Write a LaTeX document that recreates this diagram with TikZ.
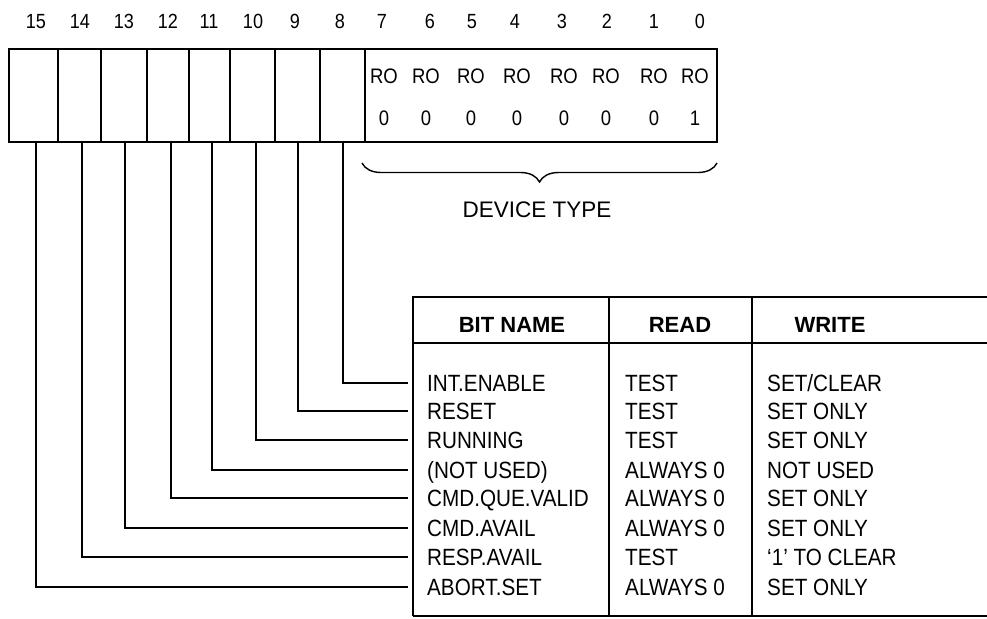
\documentclass[tikz,border=0pt]{standalone}
\usepackage{fontspec}
\setmainfont{Liberation Sans}
\newfontfamily\condfont[FakeStretch=0.88]{Liberation Sans}
\usepackage{tikz}
\usetikzlibrary{decorations.pathreplacing}
\tikzset{
  reg/.style={line width=2.4pt},
  leader/.style={line width=1.4pt},
  tbl/.style={line width=2.2pt},
  bitnum/.style={anchor=base,inner sep=0pt,font=\condfont\fontsize{20.5}{20.5}\selectfont},
  rotext/.style={anchor=base,inner sep=0pt,font=\condfont\fontsize{21}{21}\selectfont},
  rowtext/.style={anchor=base west,inner sep=0pt,font=\condfont\fontsize{23.5}{23.5}\selectfont},
  headtext/.style={anchor=base,inner sep=0pt,font=\fontsize{22}{22}\selectfont\bfseries},
  devtext/.style={anchor=base,inner sep=0pt,font=\fontsize{22.5}{22.5}\selectfont},
}

\begin{document}
\begin{tikzpicture}[x=1pt,y=-1pt]
      \useasboundingbox (0,0) rectangle (987,618);
      \clip (0,0) rectangle (987,618);
      \foreach \b/\x in {15/36,14/80,13/124,12/168,11/209,10/253,9/295,8/340,
                         7/382,6/430,5/472,4/515,3/562,2/607,1/654,0/700} {
        \node[bitnum] (n\b) at (\x,29) {\b};
      }
      \draw[reg] (9,49) rectangle (717,142);
      \foreach \b/\x/\r in {15/36/58,14/82/101,13/125/147,12/171/189,
                            11/212/230,10/256/275,9/298/320,8/343/365} {
        \draw[reg] (\r,49) -- (\r,142);
        \coordinate (c\b) at (\x,142);
      }
      \foreach \b/\x/\v in {7/384/0,6/426/0,5/471/0,4/517/0,3/564/0,2/606/0,1/654/0,0/695/1} {
        \node[rotext] (ro\b) at (\x,83) {RO};
        \node[rotext] (v\b) at (\x,125) {\v};
      }
      \coordinate (bl) at (362,163);
      \coordinate (br) at (717,163);
      \draw[leader,decorate,decoration={brace,mirror,amplitude=19pt}] (bl) -- (br);
      \node[devtext] (devtype) at (537,217) {DEVICE TYPE};
      \draw[tbl] (413,616) -- (413,297) -- (1000,297);
      \draw[tbl] (413,343) -- (1000,343);
      \draw[tbl] (609,297) -- (609,616);
      \draw[tbl] (752,297) -- (752,616);
      \draw[tbl] (413,616) -- (1000,616);
      \node[headtext] (hname) at (512,332) {BIT NAME};
      \node[headtext] (hread) at (680,332) {READ};
      \node[headtext] (hwrite) at (830,332) {WRITE};
      \foreach \b/\y/\nm/\rd/\wr in {8/383/INT.ENABLE/TEST/{SET/CLEAR},
                                     9/411/RESET/TEST/SET ONLY,
                                     10/440/RUNNING/TEST/SET ONLY,
                                     11/470/{(NOT USED)}/ALWAYS 0/NOT USED,
                                     12/498/CMD.QUE.VALID/ALWAYS 0/SET ONLY,
                                     13/528/CMD.AVAIL/ALWAYS 0/SET ONLY,
                                     14/557/RESP.AVAIL/TEST/{‘1’ TO CLEAR},
                                     15/587/ABORT.SET/ALWAYS 0/SET ONLY} {
        \node[rowtext] (name\b) at (427,\y+8) {\nm};
        \node[rowtext] (read\b) at (625,\y+8) {\rd};
        \node[rowtext] (write\b) at (767,\y+8) {\wr};
        \coordinate (e\b) at (408,\y);
        \draw[leader] (c\b) |- (e\b);
      }
    \end{tikzpicture}
\end{document}
